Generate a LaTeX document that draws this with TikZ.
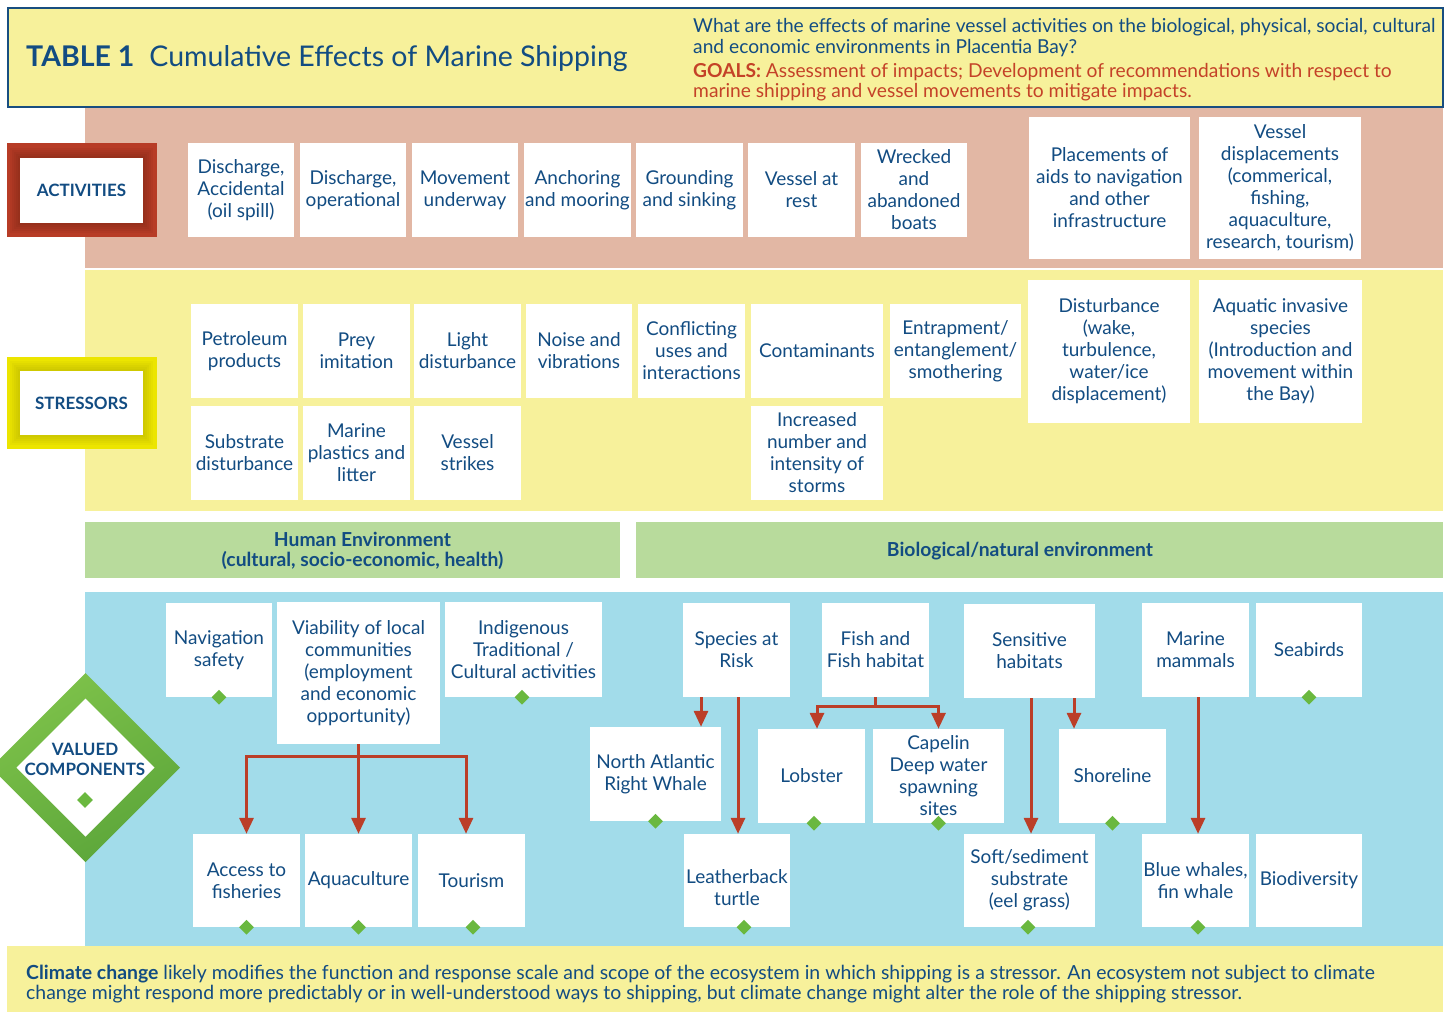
\documentclass[tikz,border=0pt]{standalone}
\usepackage{fontspec}
\setmainfont{Lato}
\usetikzlibrary{arrows.meta,shapes.geometric}

\definecolor{navy}{RGB}{18,76,130}
\definecolor{hdrfill}{RGB}{247,241,155}
\definecolor{hdrline}{RGB}{24,78,128}
\definecolor{salmon}{RGB}{226,183,164}
\definecolor{paleyel}{RGB}{247,241,155}
\definecolor{greenbar}{RGB}{184,219,156}
\definecolor{seablue}{RGB}{162,220,234}
\definecolor{arrowred}{RGB}{187,62,40}
\definecolor{goalred}{RGB}{196,66,40}
\definecolor{actframe}{RGB}{183,60,38}
\definecolor{strframe}{RGB}{236,229,0}
\definecolor{vclight}{RGB}{126,194,74}
\definecolor{vcdark}{RGB}{92,166,58}
\definecolor{marker}{RGB}{106,184,63}

\tikzset{
  wbox/.style={fill=white, draw=none, inner sep=0pt, align=center,
    text=navy, font=\fontsize{19}{22}\selectfont},
  wtext/.style={inner sep=0pt, align=center, text=navy,
    font=\fontsize{19}{22}\selectfont},
  arr/.style={draw=arrowred, line width=3pt,
    -{Triangle[length=16pt,width=14pt]}},
  mk/.style={diamond, fill=marker, minimum size=15pt, inner sep=0pt},
  lbl/.style={text=navy, font=\bfseries\fontsize{17}{20}\selectfont},
  bartext/.style={text=navy, align=center,
    font=\bfseries\fontsize{19.3}{20}\selectfont},
  prose/.style={anchor=west, align=left, inner sep=0pt,
    font=\fontsize{19.2}{20.5}\selectfont}
}

% white box given by its corners (x1,y1) (x2,y2)
\newcommand\wb[6]{\node[wbox, minimum width={(#4)-(#2)}, minimum height={(#5)-(#3)}]
  (#1) at ({((#2)+(#4))/2},{((#3)+(#5))/2}) {#6};}

\begin{document}
\begin{tikzpicture}[x=1pt,y=-1pt]
\useasboundingbox (0,0) rectangle (1450,1014);
\fill[white] (0,0) rectangle (1450,1014);

% ---------- title bar
\node[draw=hdrline, line width=2.5pt, fill=hdrfill, minimum width=1435,
  minimum height=99, inner sep=0pt] (hdr) at (725.5,57.5) {};
\node[anchor=west, text=navy, inner sep=0pt, font=\fontsize{28.5}{32}\selectfont]
  (title) at (26,59) {\textbf{TABLE 1}\hspace{15pt}Cumulative Effects of Marine Shipping};
\node[prose, text=navy] (question) at (693,37.5)
  {What are the effects of marine vessel activities on the biological, physical, social, cultural\\
   and economic environments in Placentia Bay?};
\node[prose, text=goalred] (goals) at (693,82)
  {\textbf{GOALS:} Assessment of impacts; Development of recommendations with respect to\\
   marine shipping and vessel movements to mitigate impacts.};

% ---------- bands
\fill[salmon] (85,108) rectangle (1443,268);
\fill[paleyel] (85,270) rectangle (1443,511);
\fill[greenbar] (85,522) rectangle (620,578);
\fill[greenbar] (636,522) rectangle (1443,578);
\fill[seablue] (85,592) rectangle (1443,946);
\fill[paleyel] (7,946) rectangle (1443,1012);

% ---------- ACTIVITIES label
\fill[actframe] (7,143) rectangle (157,237);
\foreach \d in {2,4,6,8,10}
  \fill[black, opacity=0.035] ({20-\d},{158-\d}) rectangle ({143+\d},{223+\d});
\node[fill=white, minimum width=123, minimum height=65, inner sep=0pt, lbl]
  (actlabel) at (81.5,190.5) {ACTIVITIES};

% ---------- STRESSORS label
\fill[strframe] (7,357) rectangle (157,449);
\foreach \d in {2,4,6,8,10}
  \fill[black, opacity=0.025] ({20-\d},{371-\d}) rectangle ({143+\d},{435+\d});
\node[fill=white, minimum width=123, minimum height=64, inner sep=0pt, lbl]
  (strlabel) at (81.5,403) {STRESSORS};

% ---------- activity boxes
\wb{a1}{188}{143}{294}{237}{Discharge,\\Accidental\\(oil spill)}
\wb{a2}{300}{143}{406}{237}{Discharge,\\operational}
\wb{a3}{412}{143}{518}{237}{Movement\\underway}
\wb{a4}{524}{143}{631}{237}{Anchoring\\and mooring}
\wb{a5}{636}{143}{743}{237}{Grounding\\and sinking}
\wb{a6}{748}{143}{855}{237}{Vessel at\\rest}
\wb{a7}{861}{143}{967}{237}{Wrecked\\and\\abandoned\\boats}
\wb{a8}{1029}{117}{1190}{259}{Placements of\\aids to navigation\\and other\\infrastructure}
\wb{a9}{1199}{117}{1361}{259}{Vessel\\displacements\\(commerical,\\fishing,\\aquaculture,\\research, tourism)}

% ---------- stressor boxes
\wb{s1}{191}{304}{298}{398}{Petroleum\\products}
\wb{s2}{303}{304}{410}{398}{Prey\\imitation}
\wb{s3}{414}{304}{521}{398}{Light\\disturbance}
\wb{s4}{526}{304}{632}{398}{Noise and\\vibrations}
\wb{s5}{638}{304}{745}{398}{Conflicting\\uses and\\interactions}
\wb{s6}{751}{304}{883}{398}{Contaminants}
\wb{s7}{890}{304}{1021}{398}{Entrapment/\\entanglement/\\smothering}
\wb{s8}{1028}{280}{1190}{423}{Disturbance\\(wake,\\turbulence,\\water/ice\\displacement)}
\wb{s9}{1199}{280}{1362}{423}{Aquatic invasive\\species\\(Introduction and\\movement within\\the Bay)}
\wb{s10}{191}{406}{298}{500}{Substrate\\disturbance}
\wb{s11}{303}{406}{410}{500}{Marine\\plastics and\\litter}
\wb{s12}{414}{406}{521}{500}{Vessel\\strikes}
\wb{s13}{751}{406}{883}{500}{Increased\\number and\\intensity of\\storms}

% ---------- environment bars
\node[bartext] (human) at (362.5,551) {Human Environment\\(cultural, socio-economic, health)};
\node[bartext] (bioenv) at (1020,551) {Biological/natural environment};

% ---------- VALUED COMPONENTS label
\shade[top color=vclight, bottom color=vcdark, shading angle=30]
  (85.5,673) -- (180,767.5) -- (85.5,862) -- (-9,767.5) -- cycle;
\fill[white] (85.5,698.5) -- (154.5,767.5) -- (85.5,836.5) -- (16.5,767.5) -- cycle;
\node[align=center, inner sep=0pt, lbl]
  (vclabel) at (85,759) {VALUED\\COMPONENTS};
\node[mk, minimum size=16pt] (vcmark) at (85,800) {};

% ---------- human valued components
\wb{nav}{166}{603}{272}{697}{Navigation\\safety}
\wb{via}{277}{602}{440}{744}{Viability of local\\communities\\(employment\\and economic\\opportunity)}
\wb{ind}{445}{602}{602}{697}{Indigenous\\Traditional /\\Cultural activities}
\wb{acc}{193}{834}{300}{927}{Access to\\fisheries}
\wb{aqu}{305}{834}{412}{927}{Aquaculture}
\wb{tou}{418}{834}{525}{927}{Tourism}

% ---------- biological valued components
\wb{spr}{683}{603}{790}{697}{Species at\\Risk}
\wb{fish}{822}{603}{929}{697}{Fish and\\Fish habitat}
\wb{sens}{964}{604}{1095}{698}{Sensitive\\habitats}
\wb{mam}{1142}{603}{1249}{697}{Marine\\mammals}
\wb{sea}{1256}{603}{1362}{697}{Seabirds}
\wb{narw}{590}{727}{721}{821}{North Atlantic\\Right Whale}
\wb{lob}{758}{729}{865}{823}{Lobster}
\wb{cap}{873}{729}{1004}{823}{Capelin\\Deep water\\spawning\\sites}
\wb{shore}{1059}{729}{1166}{823}{Shoreline}
\wb{lt}{684}{834}{790}{927}{}
\node[wtext] (lttext) at (737,888) {Leatherback\\turtle};
\wb{soft}{964}{834}{1095}{927}{Soft/sediment\\substrate\\(eel grass)}
\wb{blue}{1142}{834}{1249}{927}{Blue whales,\\fin whale}
\wb{bio}{1256}{834}{1362}{927}{Biodiversity}

% ---------- connectors
\draw[arr] (via.south) -- ++(0,12) -| (acc.north);
\draw[arr] (via.south) -- (aqu.north);
\draw[arr] (via.south) -- ++(0,12) -| ([xshift=-5.5pt]tou.north);

\draw[arr] ([xshift=-35.5pt]spr.south) -- ([xshift=-35.5pt]spr.south |- narw.north);
\draw[arr] ([xshift=1.5pt]spr.south) -- ([xshift=1.5pt]spr.south |- lt.north);
\draw[arr] (fish.south) -- ++(0,9) -| ([xshift=5.5pt]lob.north);
\draw[arr] (fish.south) -- ++(0,9) -| (cap.north);
\draw[arr] ([xshift=1.5pt]sens.south) -- ([xshift=1.5pt]sens.south |- soft.north);
\draw[arr] ([xshift=44.5pt]sens.south) -- ([xshift=44.5pt]sens.south |- shore.north);
\draw[arr] ([xshift=2.5pt]mam.south) -- ([xshift=2.5pt]mam.south |- blue.north);

% ---------- markers
\node[mk] (mnav) at (nav.south) {};
\node[mk] (mind) at ([xshift=-1.5pt]ind.south) {};
\node[mk] (macc) at (acc.south) {};
\node[mk] (maqu) at (aqu.south) {};
\node[mk] (mtou) at ([xshift=1.5pt]tou.south) {};
\node[mk] (mnarw) at (narw.south) {};
\node[mk] (mlt) at ([xshift=7pt]lt.south) {};
\node[mk] (mlob) at ([xshift=2.5pt]lob.south) {};
\node[mk] (mcap) at (cap.south) {};
\node[mk] (mshore) at (shore.south) {};
\node[mk] (msoft) at ([xshift=-1.5pt]soft.south) {};
\node[mk] (mblue) at ([xshift=2.5pt]blue.south) {};
\node[mk] (msea) at (sea.south) {};

% ---------- climate note
\node[prose, text=navy, font=\fontsize{19.4}{20.5}\selectfont] (climate) at (26,984)
  {\textbf{Climate change} likely modifies the function and response scale and scope of the ecosystem in which shipping is a stressor. An ecosystem not subject to climate\\
   change might respond more predictably or in well-understood ways to shipping, but climate change might alter the role of the shipping stressor.};
\end{tikzpicture}
\end{document}
